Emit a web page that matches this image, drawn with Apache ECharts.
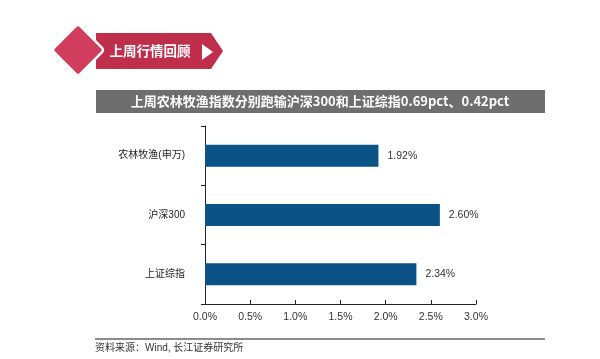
<!DOCTYPE html>
<html><head><meta charset="utf-8">
<script src="https://cdn.jsdelivr.net/npm/echarts@6/dist/echarts.min.js"></script>
<style>html,body{margin:0;padding:0;background:#fff}#c{width:600px;height:359px}</style>
</head><body><div id="c"></div>
<script>
var categories = ['农林牧渔(申万)', '沪深300', '上证综指'];
var values = [1.92, 2.60, 2.34];
var xTicks = ['0.0%', '0.5%', '1.0%', '1.5%', '2.0%', '2.5%', '3.0%'];
var headerText = '上周行情回顾';
var titleText = '上周农林牧渔指数分别跑输沪深300和上证综指0.69pct、0.42pct';
var sourceText = '资料来源：Wind, 长江证券研究所';

var FF = '"Liberation Sans", Arial, "Noto Sans CJK SC", sans-serif';
var chart = echarts.init(document.getElementById('c'));
chart.setOption({
  animation: false,
  backgroundColor: '#fff',
  grid: {left: 205, right: 124, top: 126, bottom: 55},
  xAxis: {
    type: 'value', min: 0, max: 3, interval: 0.5,
    axisLine: {show: true, lineStyle: {color: '#222', width: 1}},
    axisTick: {show: true, inside: true, length: 4, lineStyle: {color: '#222'}},
    splitLine: {show: false},
    axisLabel: {color: '#333', fontSize: 10.5, fontFamily: FF, margin: 8,
      formatter: function (v) { return xTicks[Math.round(v / 0.5)]; }}
  },
  yAxis: {
    type: 'category', data: categories, inverse: true,
    axisLine: {show: true, lineStyle: {color: '#222', width: 1}},
    axisTick: {show: true, length: 4, lineStyle: {color: '#222'}},
    axisLabel: {color: '#222', fontSize: 10, fontFamily: FF, margin: 20}
  },
  series: [{
    type: 'bar', data: values, barWidth: 22,
    itemStyle: {color: '#0b5386'},
    label: {show: true, position: 'right', distance: 9, color: '#333', fontSize: 10.5, fontFamily: FF,
      formatter: function (p) { return p.value.toFixed(2) + '%'; }}
  }],
  graphic: [
    {type: 'polygon', shape: {points: [[96, 33], [211, 33], [223, 51], [211, 69], [96, 69]]},
      style: {fill: '#bf2e4b'}},
    {type: 'polygon', shape: {points: [[202, 44], [213, 52], [202, 60]]}, style: {fill: '#fff'}},
    {type: 'rect', x: 78, y: 50, shape: {x: -18.5, y: -18.5, width: 37, height: 37, r: 3},
      rotation: Math.PI / 4, originX: 0, originY: 0,
      style: {fill: '#d13e5d', stroke: '#fff', lineWidth: 2.5}},
    {type: 'text', x: 150, y: 51, style: {text: headerText, fill: '#fff', font: 'bold 13.5px "Noto Sans CJK SC", sans-serif', align: 'center', verticalAlign: 'middle'}},
    {type: 'rect', shape: {x: 96, y: 90, width: 449, height: 23}, style: {fill: '#6e6e6e'}},
    {type: 'text', x: 320, y: 101.5, style: {text: titleText, fill: '#fff', font: 'bold 13px "Noto Sans CJK SC", sans-serif', align: 'center', verticalAlign: 'middle'}},
    {type: 'line', shape: {x1: 95, y1: 339, x2: 545, y2: 339}, style: {stroke: '#666', lineWidth: 1.5}},
    {type: 'text', x: 95, y: 348, style: {text: sourceText, fill: '#333', font: '10px "Liberation Sans", "Noto Sans CJK SC", sans-serif', align: 'left', verticalAlign: 'middle'}}
  ]
});
</script></body></html>
